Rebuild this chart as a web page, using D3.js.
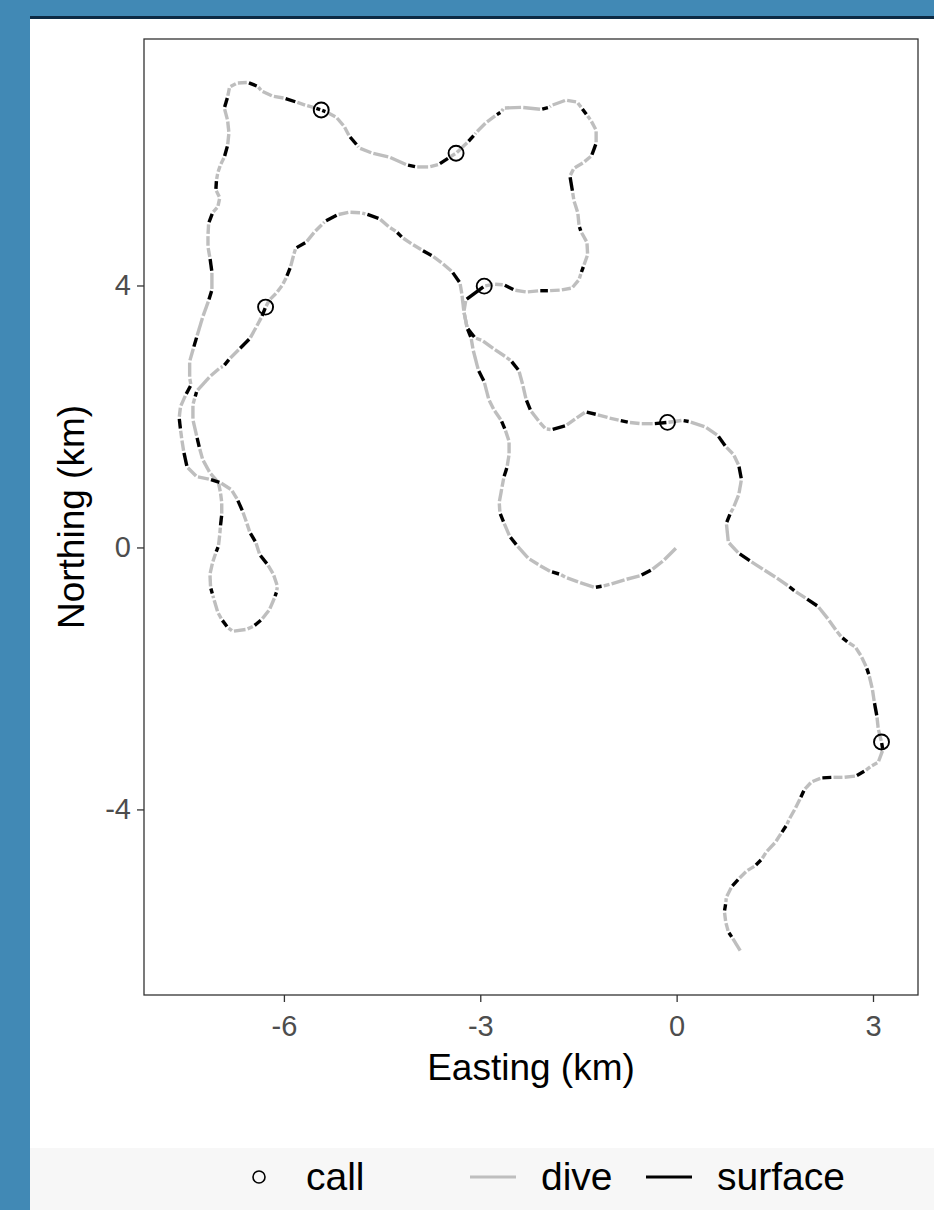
<!DOCTYPE html>
<html>
<head>
<meta charset="utf-8">
<title>Track map</title>
<script src="https://cdn.jsdelivr.net/npm/d3@7"></script>
<style>
  body { margin: 0; background: #4189b5; }
  text { font-family: "Liberation Sans", Arial, Helvetica, sans-serif; }
</style>
</head>
<body>
<div id="chart"></div>
<script>
// track positions in km from the start, in travel order
var easting = [
  0.00,-0.20,-0.38,-0.55,-0.78,-1.01,-1.13,-1.25,-1.49,-1.69,
  -1.78,-1.92,-2.10,-2.26,-2.44,-2.55,-2.64,-2.70,-2.71,-2.67,
  -2.64,-2.59,-2.56,-2.56,-2.62,-2.68,-2.79,-2.87,-2.94,-3.03,
  -3.11,-3.14,-3.20,-3.25,-3.22,-2.94,-2.79,-2.64,-2.48,-2.29,
  -2.10,-1.95,-1.77,-1.60,-1.49,-1.46,-1.42,-1.36,-1.37,-1.46,
  -1.49,-1.51,-1.57,-1.59,-1.63,-1.57,-1.42,-1.30,-1.23,-1.23,
  -1.31,-1.37,-1.45,-1.52,-1.69,-1.91,-1.95,-2.07,-2.36,-2.64,
  -2.68,-2.76,-2.91,-3.06,-3.09,-3.19,-3.37,-3.48,-3.63,-3.78,
  -3.98,-4.12,-4.39,-4.65,-4.85,-4.88,-5.00,-5.08,-5.20,-5.35,
  -5.43,-5.52,-5.66,-5.81,-5.99,-6.17,-6.34,-6.40,-6.55,-6.72,
  -6.83,-6.86,-6.91,-6.86,-6.84,-6.86,-6.91,-6.97,-7.01,-7.03,
  -7.04,-6.98,-7.01,-7.09,-7.15,-7.16,-7.16,-7.13,-7.10,-7.10,
  -7.15,-7.24,-7.33,-7.38,-7.44,-7.44,-7.42,-7.50,-7.58,-7.60,
  -7.58,-7.56,-7.53,-7.48,-7.33,-7.13,-6.97,-6.80,-6.71,-6.63,
  -6.57,-6.52,-6.43,-6.37,-6.25,-6.16,-6.10,-6.11,-6.14,-6.22,
  -6.34,-6.46,-6.57,-6.78,-6.86,-6.95,-7.01,-7.07,-7.09,-7.12,
  -7.13,-7.09,-7.04,-7.00,-6.98,-6.97,-6.95,-6.95,-6.97,-7.00,
  -7.13,-7.24,-7.29,-7.33,-7.39,-7.39,-7.36,-7.33,-7.13,-6.98,
  -6.92,-6.83,-6.68,-6.52,-6.42,-6.34,-6.28,-6.22,-6.11,-6.02,
  -5.96,-5.90,-5.85,-5.82,-5.66,-5.53,-5.41,-5.37,-5.18,-5.00,
  -4.82,-4.74,-4.54,-4.39,-4.28,-4.19,-4.04,-3.89,-3.73,-3.58,
  -3.43,-3.31,-3.28,-3.25,-3.20,-3.08,-2.97,-2.79,-2.61,-2.53,
  -2.41,-2.35,-2.30,-2.23,-2.10,-2.00,-1.91,-1.69,-1.54,-1.39,
  -1.22,-1.04,-0.87,-0.73,-0.55,-0.35,-0.14,0.09,0.20,0.44,
  0.63,0.75,0.87,0.95,0.99,0.95,0.87,0.82,0.76,0.79,
  0.95,1.13,1.33,1.52,1.71,1.81,1.98,2.16,2.32,2.44,
  2.52,2.62,2.73,2.82,2.90,2.94,2.99,3.02,3.06,3.08,
  3.13,3.15,3.08,2.97,2.88,2.74,2.55,2.38,2.21,2.06,
  1.95,1.89,1.81,1.72,1.68,1.60,1.51,1.37,1.30,1.20,
  1.07,0.95,0.84,0.76,0.75,0.73,0.75,0.79,0.85,0.98
];
var northing = [
  0.00,-0.20,-0.34,-0.43,-0.49,-0.56,-0.59,-0.61,-0.53,-0.46,
  -0.41,-0.37,-0.27,-0.17,0.03,0.17,0.38,0.53,0.69,0.91,
  1.07,1.23,1.42,1.62,1.80,1.94,2.10,2.26,2.53,2.71,
  3.02,3.20,3.35,3.60,3.78,3.99,4.02,4.01,3.93,3.90,
  3.92,3.92,3.93,3.96,4.09,4.19,4.30,4.47,4.66,4.82,
  4.91,5.11,5.30,5.43,5.67,5.79,5.88,5.98,6.17,6.37,
  6.52,6.60,6.71,6.80,6.83,6.75,6.72,6.69,6.72,6.71,
  6.65,6.60,6.49,6.34,6.30,6.19,6.02,5.95,5.85,5.81,
  5.81,5.84,5.96,6.02,6.10,6.14,6.28,6.43,6.57,6.65,
  6.68,6.71,6.75,6.80,6.86,6.89,6.97,7.04,7.10,7.09,
  7.03,6.88,6.71,6.52,6.33,6.14,5.96,5.84,5.72,5.61,
  5.46,5.34,5.20,5.11,4.95,4.77,4.59,4.42,4.21,3.93,
  3.77,3.52,3.22,3.05,2.84,2.59,2.48,2.33,2.15,1.98,
  1.80,1.65,1.46,1.23,1.08,1.04,0.99,0.88,0.73,0.55,
  0.38,0.23,0.08,-0.11,-0.26,-0.41,-0.59,-0.67,-0.76,-0.95,
  -1.10,-1.20,-1.25,-1.28,-1.22,-1.10,-0.99,-0.79,-0.72,-0.61,
  -0.41,-0.23,-0.08,0.02,0.20,0.32,0.50,0.69,0.84,0.99,
  1.14,1.34,1.52,1.69,1.95,2.18,2.29,2.39,2.61,2.74,
  2.77,2.88,3.03,3.19,3.37,3.52,3.67,3.78,3.89,4.01,
  4.13,4.28,4.47,4.57,4.66,4.82,4.94,4.98,5.08,5.12,
  5.11,5.09,5.02,4.89,4.82,4.73,4.63,4.54,4.45,4.34,
  4.21,4.04,3.86,3.60,3.35,3.20,3.16,3.03,2.91,2.85,
  2.70,2.48,2.26,2.09,1.92,1.81,1.80,1.86,1.97,2.07,
  2.03,1.98,1.94,1.91,1.89,1.89,1.91,1.94,1.92,1.84,
  1.71,1.54,1.42,1.25,1.04,0.81,0.61,0.52,0.37,0.08,
  -0.09,-0.21,-0.34,-0.46,-0.59,-0.67,-0.78,-0.90,-1.10,-1.27,
  -1.37,-1.45,-1.52,-1.66,-1.83,-1.95,-2.16,-2.36,-2.58,-2.77,
  -2.97,-3.09,-3.28,-3.34,-3.41,-3.49,-3.51,-3.51,-3.52,-3.58,
  -3.70,-3.83,-3.99,-4.15,-4.24,-4.36,-4.50,-4.65,-4.76,-4.86,
  -4.94,-5.06,-5.18,-5.34,-5.43,-5.56,-5.72,-5.87,-5.96,-6.17
];
// behaviour on the leg that starts at each position: D = dive, S = surface
var state = [
  "D","D","S","D","D","D","S","D","D","D",
  "S","D","D","D","S","D","S","D","D","D",
  "S","D","D","D","S","D","D","D","S","D",
  "D","S","D","D","S","D","D","S","D","D",
  "S","D","D","D","D","S","D","D","D","S",
  "D","D","D","S","D","D","D","S","D","D",
  "D","S","D","D","D","D","S","D","D","D",
  "S","D","D","D","S","D","D","S","D","D",
  "S","D","D","D","D","S","D","D","D","S",
  "S","D","D","S","D","D","D","S","D","D",
  "D","S","D","D","D","S","D","D","D","S",
  "D","D","D","S","D","D","D","S","D","S",
  "D","D","S","D","D","D","S","D","D","S",
  "D","D","S","D","D","S","D","D","S","D",
  "D","S","D","S","D","D","D","S","D","D",
  "S","D","D","D","S","D","D","D","S","D",
  "D","D","S","D","D","S","D","D","D","D",
  "D","D","S","D","D","D","S","D","D","D",
  "S","D","S","D","D","S","D","D","D","D",
  "S","D","D","S","D","D","D","S","D","D",
  "D","S","D","D","S","D","D","S","D","D",
  "S","D","D","D","S","D","D","D","D","S",
  "D","D","S","D","D","D","S","D","D","S",
  "D","D","S","D","D","S","D","S","D","D",
  "S","D","D","S","D","D","D","S","D","D",
  "S","D","D","D","S","D","S","D","D","D",
  "S","D","D","D","S","D","D","S","D","D",
  "S","D","D","D","S","D","D","S","D","D",
  "S","D","D","D","S","D","D","D","S","D",
  "D","S","D","D","S","D","D","S","D","D"
];
// positions where a call was heard
var callEasting  = [-5.43, -3.37, -2.94, -6.28, -0.14, 3.13];
var callNorthing = [ 6.68,  6.02,  3.99,  3.67,  1.91, -2.97];

var xTicks = [-6, -3, 0, 3];
var yTicks = [-4, 0, 4];
var stateCodes = ["D", "S"];
var stateLabels = ["dive", "surface"];
var stateColours = ["#bebebe", "#000000"];

var W = 934, H = 1210;
var panel = {left: 144, right: 918, top: 39, bottom: 995};

var svg = d3.select("#chart").append("svg")
    .attr("width", W)
    .attr("height", H);

// page frame
svg.append("rect").attr("width", W).attr("height", H).attr("fill", "#4189b5");
svg.append("rect").attr("x", 30).attr("y", 16).attr("width", W - 30).attr("height", 3).attr("fill", "#0c2a44");
svg.append("rect").attr("x", 30).attr("y", 19).attr("width", W - 30).attr("height", H - 19).attr("fill", "#ffffff");
svg.append("rect").attr("x", 30).attr("y", 1148).attr("width", W - 30).attr("height", H - 1148).attr("fill", "#f7f7f7");

// ggplot-like 5% expansion of the data range
function padded(arr) {
  var e = d3.extent(arr), p = (e[1] - e[0]) * 0.05;
  return [e[0] - p, e[1] + p];
}
var x = d3.scaleLinear().domain(padded(easting)).range([panel.left, panel.right]);
var y = d3.scaleLinear().domain(padded(northing)).range([panel.bottom, panel.top]);
var colour = d3.scaleOrdinal().domain(stateCodes).range(stateColours);

// each leg drawn on its own, trimmed a little at both ends
var gap = 1.1;
var legs = d3.range(easting.length - 1).map(function(i) {
  var x0 = x(easting[i]), y0 = y(northing[i]),
      x1 = x(easting[i + 1]), y1 = y(northing[i + 1]);
  var dx = x1 - x0, dy = y1 - y0, len = Math.sqrt(dx * dx + dy * dy) || 1;
  var k = Math.min(gap, len / 3) / len;
  return {s: state[i], x0: x0 + dx * k, y0: y0 + dy * k, x1: x1 - dx * k, y1: y1 - dy * k};
});

var track = svg.append("g");
stateCodes.forEach(function(code) {
  track.selectAll("line.leg-" + code)
    .data(legs.filter(function(d) { return d.s === code; }))
    .enter().append("line")
      .attr("class", "leg-" + code)
      .attr("x1", function(d) { return d.x0; })
      .attr("y1", function(d) { return d.y0; })
      .attr("x2", function(d) { return d.x1; })
      .attr("y2", function(d) { return d.y1; })
      .attr("stroke", colour(code))
      .attr("stroke-width", 3.4)
      .attr("stroke-linecap", "butt");
});

// calls
svg.append("g").selectAll("circle")
  .data(callEasting)
  .enter().append("circle")
    .attr("cx", function(d) { return x(d); })
    .attr("cy", function(d, i) { return y(callNorthing[i]); })
    .attr("r", 7.5)
    .attr("fill", "none")
    .attr("stroke", "#000")
    .attr("stroke-width", 1.9);

// panel border
svg.append("rect")
  .attr("x", panel.left).attr("y", panel.top)
  .attr("width", panel.right - panel.left)
  .attr("height", panel.bottom - panel.top)
  .attr("fill", "none")
  .attr("stroke", "#333333")
  .attr("stroke-width", 1.3);

// axes
var xAxis = svg.append("g")
  .attr("transform", "translate(0," + panel.bottom + ")")
  .call(d3.axisBottom(x).tickValues(xTicks).tickSize(7).tickPadding(13)
    .tickFormat(function(d) { return String(d); }));
var yAxis = svg.append("g")
  .attr("transform", "translate(" + panel.left + ",0)")
  .call(d3.axisLeft(y).tickValues(yTicks).tickSize(7).tickPadding(6)
    .tickFormat(function(d) { return String(d); }));

[xAxis, yAxis].forEach(function(a) {
  a.select(".domain").remove();
  a.selectAll(".tick line").attr("stroke", "#333333").attr("stroke-width", 1.3);
  a.selectAll(".tick text")
    .attr("fill", "#4d4d4d")
    .style("font-size", "29px")
    .style("font-family", "'Liberation Sans', Arial, sans-serif");
});

svg.append("text")
  .attr("x", (panel.left + panel.right) / 2)
  .attr("y", 1080)
  .attr("text-anchor", "middle")
  .style("font-size", "37px")
  .text("Easting (km)");

svg.append("text")
  .attr("transform", "translate(84," + (panel.top + panel.bottom) / 2 + ") rotate(-90)")
  .attr("text-anchor", "middle")
  .style("font-size", "37px")
  .text("Northing (km)");

// legend
var legendY = 1177;
var legend = svg.append("g");
legend.append("circle")
  .attr("cx", 259).attr("cy", legendY).attr("r", 6)
  .attr("fill", "none").attr("stroke", "#000").attr("stroke-width", 1.6);
legend.append("text").attr("x", 306).attr("y", legendY + 13)
  .style("font-size", "39px").text("call");

var keyX = [470, 646], labelX = [541, 717];
stateCodes.forEach(function(code, i) {
  legend.append("line")
    .attr("x1", keyX[i]).attr("x2", keyX[i] + 46)
    .attr("y1", legendY).attr("y2", legendY)
    .attr("stroke", colour(code)).attr("stroke-width", 3);
  legend.append("text").attr("x", labelX[i]).attr("y", legendY + 13)
    .style("font-size", "39px").text(stateLabels[i]);
});
</script>
</body>
</html>
